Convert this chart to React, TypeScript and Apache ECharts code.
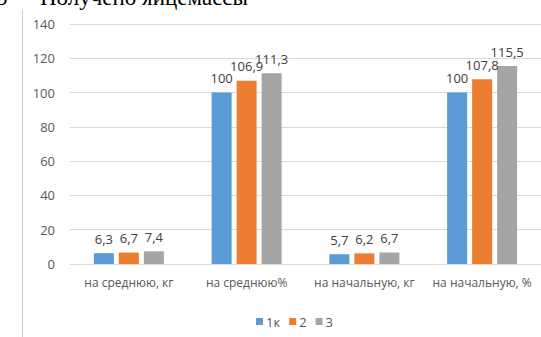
import React, { useEffect, useRef } from "react";
import * as echarts from "echarts";

const categories = ["на среднюю, кг", "на среднюю%", "на начальную, кг", "на начальную, %"];
const seriesNames = ["1к", "2", "3"];
const values1k = [6.3, 100, 5.7, 100];
const values2 = [6.7, 106.9, 6.2, 107.8];
const values3 = [7.4, 111.3, 6.7, 115.5];
const colors = ["#5B9BD5", "#ED7D31", "#A5A5A5"];

const labelFont = "'Open Sans', sans-serif";

export default function App() {
  const ref = useRef<HTMLDivElement>(null);

  useEffect(() => {
    if (!ref.current) return;
    const chart = echarts.init(ref.current, undefined, { renderer: "svg" });
    const all = [values1k, values2, values3];
    chart.setOption({
      animation: false,
      backgroundColor: "#ffffff",
      grid: { left: 70, right: 0, top: 24, bottom: 73 },
      legend: {
        left: 251,
        top: 310,
        itemWidth: 7,
        itemHeight: 7,
        itemGap: 9,
        icon: "rect",
        textStyle: { color: "#595959", fontSize: 13, fontFamily: labelFont, padding: [0, 0, 0, -2] },
        data: seriesNames,
      },
      xAxis: {
        type: "category",
        data: categories,
        axisLine: { show: false },
        axisTick: { show: false },
        axisLabel: { color: "#595959", fontSize: 12, fontFamily: labelFont, margin: 12, interval: 0 },
      },
      yAxis: {
        type: "value",
        min: 0,
        max: 140,
        interval: 20,
        axisLine: { show: false },
        axisTick: { show: false },
        splitLine: { lineStyle: { color: "#d9d9d9", width: 1 } },
        axisLabel: { color: "#595959", fontSize: 13, fontFamily: labelFont, margin: 15 },
      },
      series: seriesNames.map((name, i) => ({
        name,
        type: "bar",
        data: all[i],
        barWidth: 20,
        barGap: "25%",
        itemStyle: { color: colors[i] },
        label: {
          show: true,
          position: "top",
          distance: 8,
          color: "#404040",
          fontSize: 13,
          fontFamily: labelFont,
          formatter: (p: any) => String(p.value).replace(".", ","),
        },
      })),
      graphic: [
        {
          type: "line",
          shape: { x1: 22.5, y1: 9, x2: 22.5, y2: 337 },
          style: { stroke: "#d0d0d0", lineWidth: 1 },
        },
        {
          type: "text",
          x: -4,
          y: 9,
          style: {
            text: "5",
            font: "23px 'Liberation Serif', serif",
            fill: "#000000",
            verticalAlign: "bottom",
          },
        },
        {
          type: "text",
          x: 40,
          y: 9,
          style: {
            text: "Получено яйцемассы",
            font: "23px 'Liberation Serif', serif",
            fill: "#000000",
            verticalAlign: "bottom",
          },
        },
      ],
    });
    return () => chart.dispose();
  }, []);

  return (
    <div
      ref={ref}
      style={{ position: "fixed", left: 0, top: 0, width: 541, height: 337 }}
    />
  );
}
